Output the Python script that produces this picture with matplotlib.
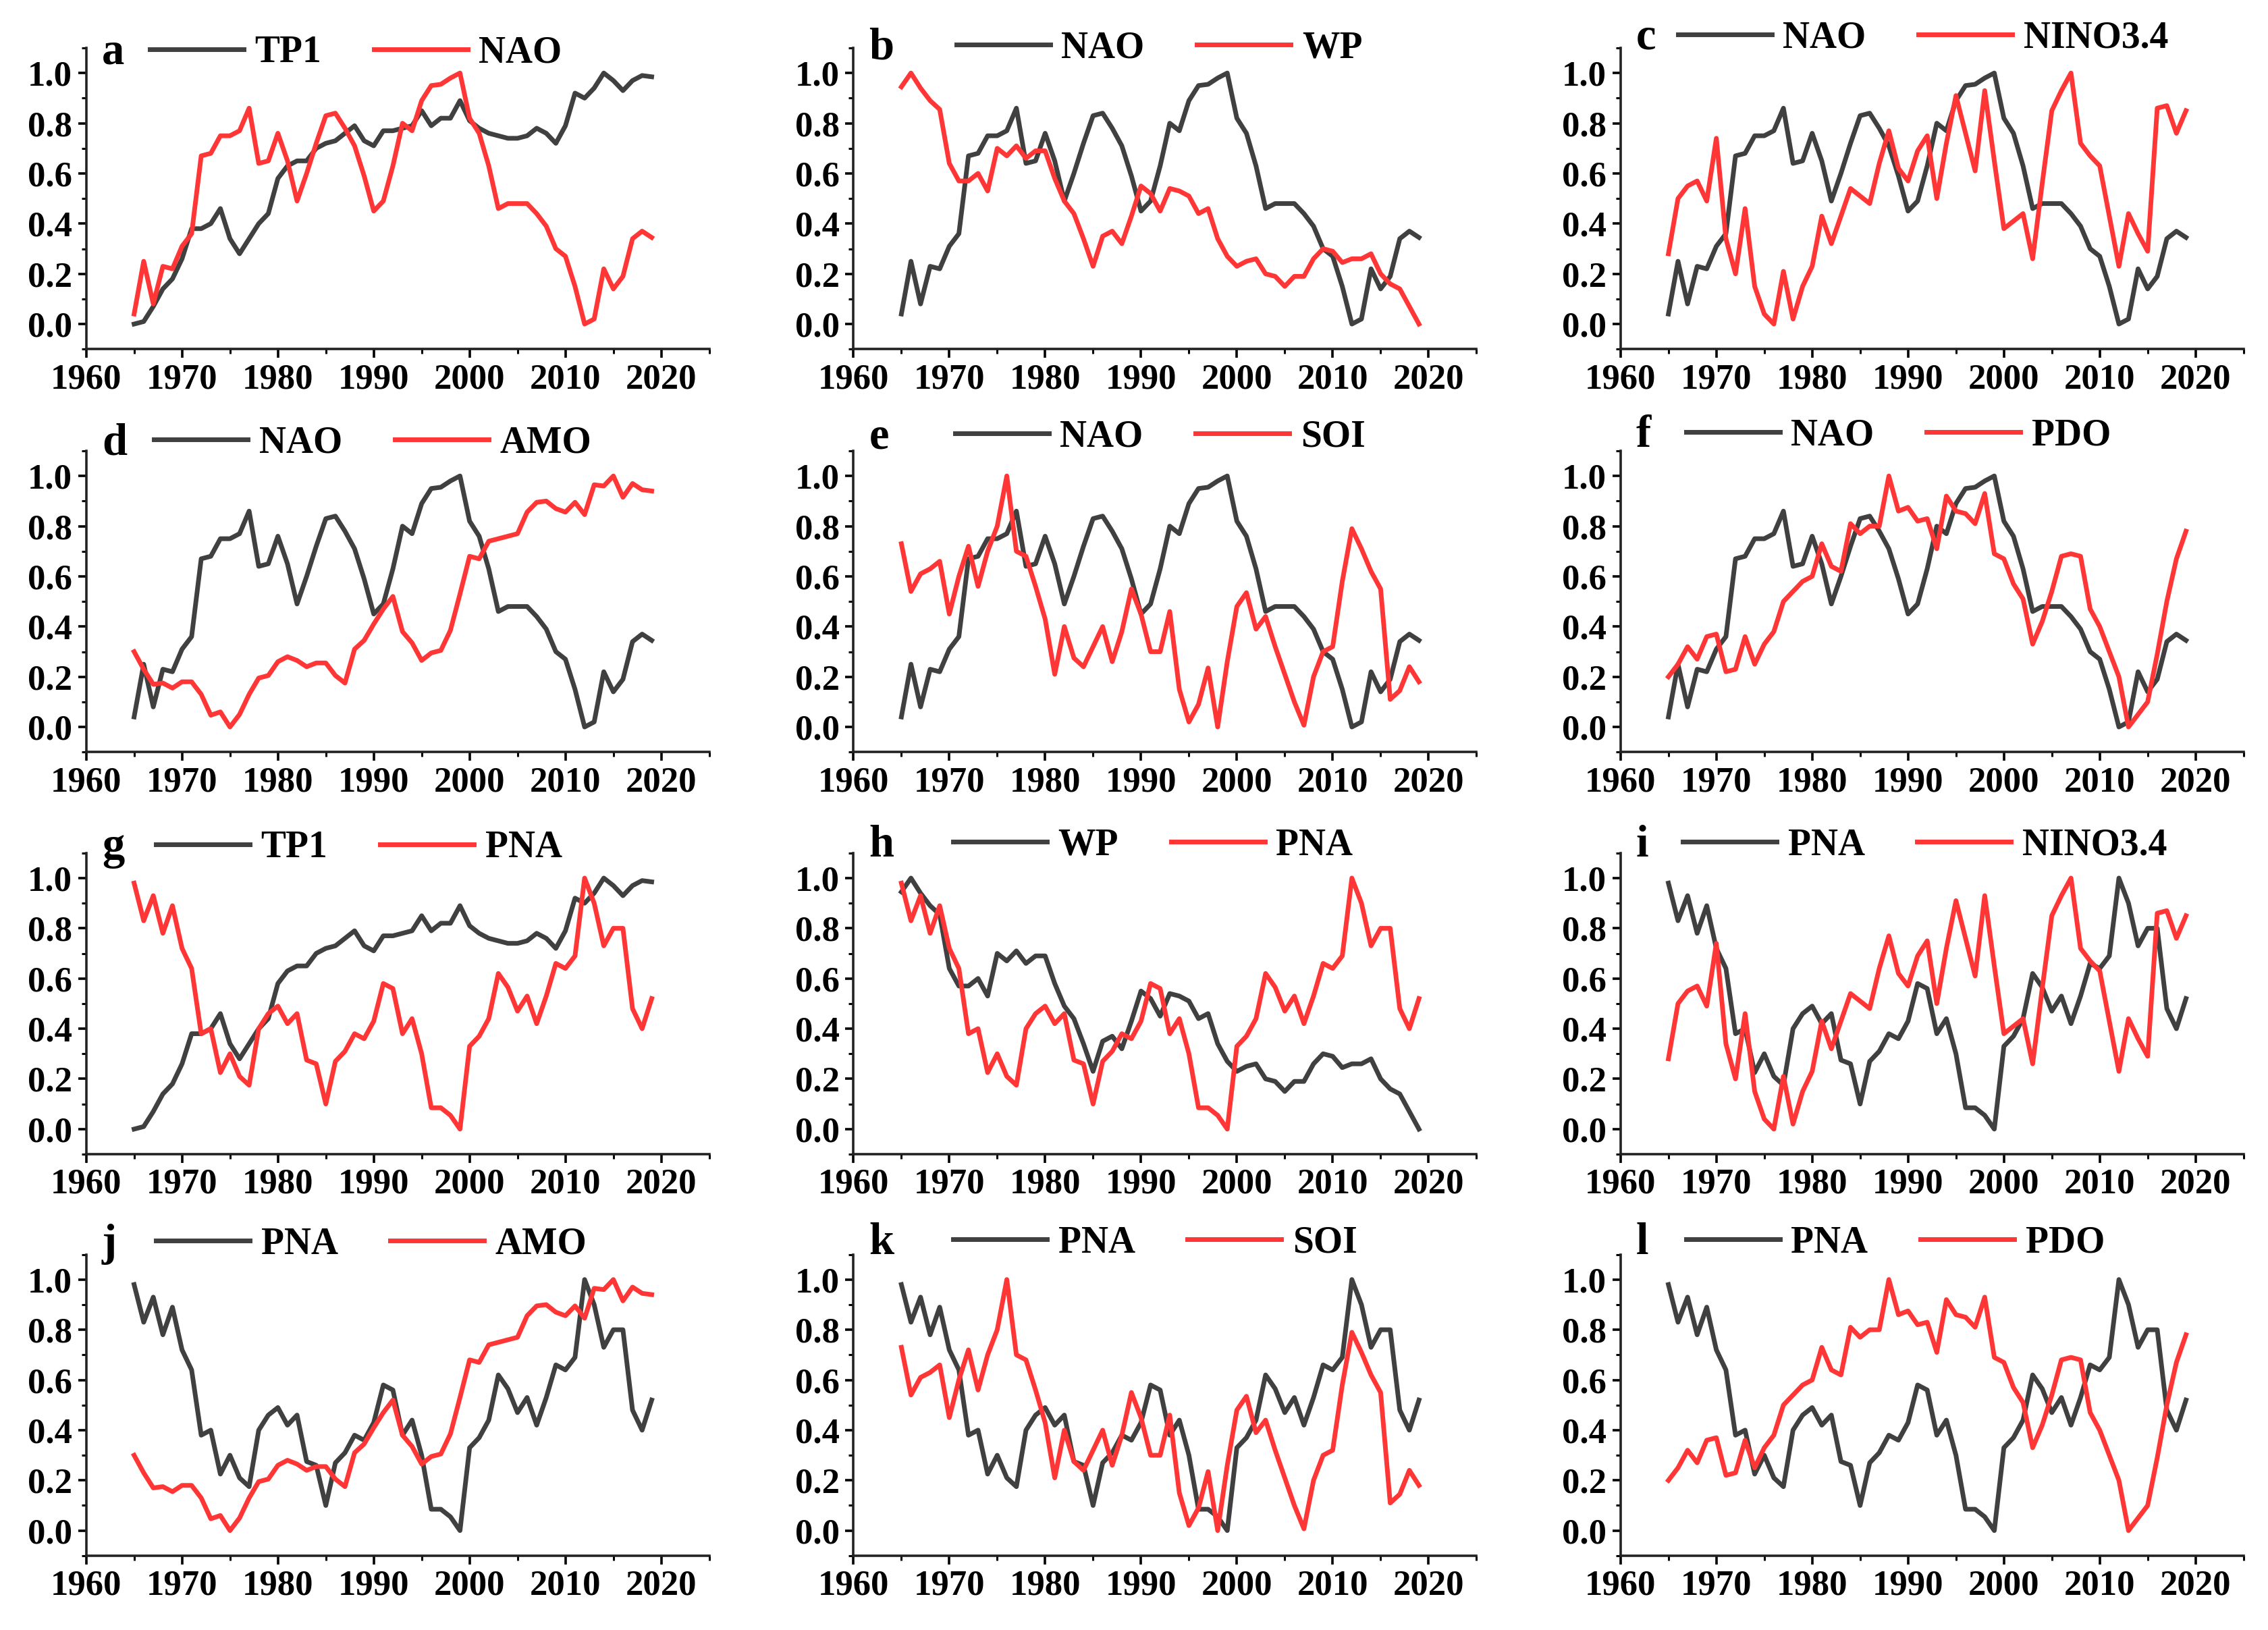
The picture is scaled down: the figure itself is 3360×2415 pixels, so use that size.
import numpy as np
import matplotlib
matplotlib.use('Agg')
import matplotlib.pyplot as plt
from matplotlib.ticker import MultipleLocator, FormatStrFormatter

# ---------------- data (normalised indices, 1965-2019) ----------------
years = list(range(1965, 2020))

TP1 = [0.00, 0.01, 0.07, 0.14, 0.18, 0.26, 0.38, 0.38, 0.40, 0.46,
       0.34, 0.28, 0.34, 0.40, 0.44, 0.58, 0.63, 0.65, 0.65, 0.70,
       0.72, 0.73, 0.76, 0.79, 0.73, 0.71, 0.77, 0.77, 0.78, 0.79,
       0.85, 0.79, 0.82, 0.82, 0.89, 0.81, 0.78, 0.76, 0.75, 0.74,
       0.74, 0.75, 0.78, 0.76, 0.72, 0.79, 0.92, 0.90, 0.94, 1.00,
       0.97, 0.93, 0.97, 0.99, 0.985]

NAO = [0.04, 0.25, 0.08, 0.23, 0.22, 0.31, 0.36, 0.67, 0.68, 0.75,
       0.75, 0.77, 0.86, 0.64, 0.65, 0.76, 0.65, 0.49, 0.60, 0.72,
       0.83, 0.84, 0.78, 0.71, 0.59, 0.45, 0.49, 0.63, 0.80, 0.77,
       0.89, 0.95, 0.955, 0.98, 1.00, 0.82, 0.76, 0.63, 0.46, 0.48,
       0.48, 0.48, 0.44, 0.39, 0.30, 0.27, 0.15, 0.00, 0.02, 0.22,
       0.14, 0.19, 0.34, 0.37, 0.345]

WP = [0.945, 1.00, 0.94, 0.89, 0.855, 0.64, 0.57, 0.57, 0.60, 0.53,
      0.70, 0.67, 0.71, 0.66, 0.69, 0.69, 0.58, 0.49, 0.44, 0.34,
      0.23, 0.35, 0.37, 0.32, 0.43, 0.55, 0.52, 0.45, 0.54, 0.53,
      0.51, 0.44, 0.46, 0.34, 0.27, 0.23, 0.25, 0.26, 0.20, 0.19,
      0.15, 0.19, 0.19, 0.26, 0.30, 0.29, 0.245, 0.26, 0.26, 0.28,
      0.20, 0.16, 0.14, 0.07, 0.00]

NINO34 = [0.28, 0.50, 0.55, 0.57, 0.49, 0.74, 0.34, 0.20, 0.46, 0.15,
          0.04, 0.00, 0.21, 0.02, 0.15, 0.23, 0.43, 0.32, 0.43, 0.54,
          0.51, 0.48, 0.64, 0.77, 0.62, 0.57, 0.69, 0.75, 0.50, 0.72,
          0.91, 0.76, 0.61, 0.93, 0.65, 0.38, 0.41, 0.44, 0.26, 0.56,
          0.85, 0.93, 1.00, 0.72, 0.67, 0.63, 0.43, 0.23, 0.44, 0.36,
          0.29, 0.86, 0.87, 0.76, 0.85]

AMO = [0.30, 0.23, 0.17, 0.175, 0.155, 0.18, 0.18, 0.13, 0.047, 0.06,
       0.00, 0.05, 0.13, 0.195, 0.205, 0.26, 0.28, 0.265, 0.24, 0.255,
       0.255, 0.205, 0.175, 0.31, 0.345, 0.41, 0.47, 0.52, 0.38, 0.335,
       0.265, 0.295, 0.305, 0.385, 0.53, 0.68, 0.67, 0.74, 0.75, 0.76,
       0.77, 0.856, 0.895, 0.90, 0.87, 0.856, 0.895, 0.846, 0.965, 0.96,
       1.00, 0.915, 0.97, 0.945, 0.94]

SOI = [0.73, 0.54, 0.61, 0.63, 0.66, 0.45, 0.60, 0.72, 0.56, 0.70,
       0.80, 1.00, 0.70, 0.68, 0.56, 0.43, 0.21, 0.40, 0.275, 0.24,
       0.32, 0.40, 0.26, 0.38, 0.55, 0.45, 0.30, 0.30, 0.46, 0.15,
       0.02, 0.09, 0.235, 0.00, 0.26, 0.48, 0.535, 0.39, 0.44, 0.32,
       0.21, 0.10, 0.007, 0.20, 0.30, 0.32, 0.58, 0.79, 0.71, 0.62,
       0.55, 0.11, 0.145, 0.24, 0.18]

PDO = [0.20, 0.25, 0.32, 0.27, 0.36, 0.37, 0.22, 0.23, 0.36, 0.25,
       0.33, 0.38, 0.50, 0.54, 0.58, 0.60, 0.73, 0.64, 0.62, 0.81,
       0.77, 0.80, 0.80, 1.00, 0.86, 0.875, 0.82, 0.83, 0.71, 0.92,
       0.86, 0.85, 0.81, 0.93, 0.69, 0.67, 0.57, 0.51, 0.33, 0.42,
       0.54, 0.68, 0.69, 0.68, 0.47, 0.40, 0.30, 0.20, 0.00, 0.05,
       0.10, 0.29, 0.50, 0.67, 0.78]

PNA = [0.98, 0.83, 0.93, 0.78, 0.89, 0.72, 0.64, 0.38, 0.40, 0.225,
       0.30, 0.21, 0.175, 0.40, 0.46, 0.49, 0.42, 0.46, 0.275, 0.26,
       0.10, 0.27, 0.31, 0.38, 0.36, 0.43, 0.58, 0.56, 0.38, 0.44,
       0.30, 0.085, 0.085, 0.055, 0.00, 0.33, 0.37, 0.44, 0.62, 0.565,
       0.47, 0.53, 0.42, 0.53, 0.66, 0.64, 0.69, 1.00, 0.90, 0.73,
       0.80, 0.80, 0.48, 0.40, 0.52]

series = {'TP1': TP1, 'NAO': NAO, 'WP': WP, 'NINO3.4': NINO34,
          'AMO': AMO, 'SOI': SOI, 'PDO': PDO, 'PNA': PNA}

# panel letter, grey series, red series
panels = [('a', 'TP1', 'NAO'), ('b', 'NAO', 'WP'), ('c', 'NAO', 'NINO3.4'),
          ('d', 'NAO', 'AMO'), ('e', 'NAO', 'SOI'), ('f', 'NAO', 'PDO'),
          ('g', 'TP1', 'PNA'), ('h', 'WP', 'PNA'), ('i', 'PNA', 'NINO3.4'),
          ('j', 'PNA', 'AMO'), ('k', 'PNA', 'SOI'), ('l', 'PNA', 'PDO')]

# where the legend starts inside each panel (axes fraction)
legend_x = [0.102, 0.165, 0.092, 0.109, 0.163, 0.105,
            0.112, 0.160, 0.100, 0.112, 0.160, 0.105]
# vertical centre of the legend row, in data units
legend_y = [1.08, 1.10, 1.14, 1.13, 1.155, 1.16,
            1.12, 1.13, 1.13, 1.14, 1.145, 1.145]

GREY = '#404040'
RED = '#ff3636'

plt.rcParams['font.family'] = ['Liberation Serif', 'DejaVu Serif']
plt.rcParams['font.weight'] = 'bold'

fig = plt.figure(figsize=(16.8, 12.075), dpi=200)

col_left = [0.038, 0.3763, 0.7145]
row_bottom = [0.7858, 0.5386, 0.2919, 0.0456]
ax_w = 0.2747
ax_h = 0.1848
y_lo, y_hi = -0.1, 1.1

for i, (letter, s1, s2) in enumerate(panels):
  r = i // 3
  c = i % 3
  ax = fig.add_axes([col_left[c], row_bottom[r], ax_w, ax_h])

  l1, = ax.plot(years, series[s1], color=GREY, lw=2.5, label=s1)
  l2, = ax.plot(years, series[s2], color=RED, lw=2.5, label=s2)

  ax.set_xlim(1960, 2025)
  ax.set_ylim(y_lo, y_hi)
  ax.xaxis.set_major_locator(MultipleLocator(10))
  ax.xaxis.set_minor_locator(MultipleLocator(5))
  ax.yaxis.set_major_locator(MultipleLocator(0.2))
  ax.yaxis.set_minor_locator(MultipleLocator(0.1))
  ax.yaxis.set_major_formatter(FormatStrFormatter('%.1f'))

  for side in ['top', 'right']:
    ax.spines[side].set_visible(False)
  for side in ['left', 'bottom']:
    ax.spines[side].set_linewidth(1.3)
    ax.spines[side].set_color('#222222')

  ax.tick_params(which='major', direction='out', length=4.5, width=1.3,
                 labelsize=19, pad=3)
  ax.tick_params(which='minor', direction='out', length=2.5, width=1.1)
  for lab in ax.get_xticklabels() + ax.get_yticklabels():
    lab.set_fontweight('bold')

  yf = (legend_y[i] - y_lo) / (y_hi - y_lo)
  ax.text(0.025, yf, letter, transform=ax.transAxes, ha='left',
          va='center', fontsize=24, fontweight='bold')
  ax.legend(handles=[l1, l2], loc='center left',
            bbox_to_anchor=(legend_x[i], yf), ncol=2, frameon=False,
            handlelength=2.5, handletextpad=0.3, columnspacing=1.4,
            borderpad=0, borderaxespad=0,
            prop={'weight': 'bold', 'size': 20})

fig.savefig('out.png', dpi=200)
